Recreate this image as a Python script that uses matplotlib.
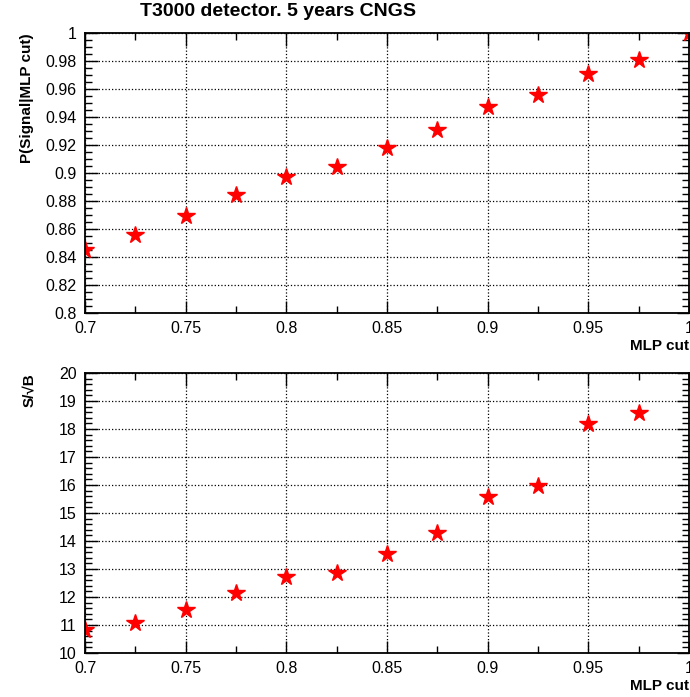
import numpy as np
import matplotlib.pyplot as plt
from matplotlib.ticker import MultipleLocator

plt.rcParams['font.family'] = ['Liberation Sans', 'DejaVu Sans']

# MLP cut values and results
mlp_cut = [0.7, 0.725, 0.75, 0.775, 0.8, 0.825, 0.85, 0.875, 0.9, 0.925, 0.95, 0.975, 1.0]
p_signal = [0.845, 0.856, 0.869, 0.884, 0.897, 0.904, 0.918, 0.931, 0.947, 0.956, 0.971, 0.981, 1.0]
s_over_sqrtb = [10.82, 11.07, 11.54, 12.14, 12.73, 12.86, 13.54, 14.29, 15.57, 15.96, 18.18, 18.57]

fig = plt.figure(figsize=(6.9, 6.97), dpi=100)
ax1 = fig.add_axes([85 / 690, 1 - 313 / 697, 604 / 690, 280 / 697])
ax2 = fig.add_axes([85 / 690, 1 - 653 / 697, 604 / 690, 280 / 697])


def style_axis(ax, ymin, ymax, ymaj, ymin_step):
    ax.set_xlim(0.7, 1.0)
    ax.set_ylim(ymin, ymax)
    ax.xaxis.set_major_locator(MultipleLocator(0.05))
    ax.xaxis.set_minor_locator(MultipleLocator(0.025))
    ax.yaxis.set_major_locator(MultipleLocator(ymaj))
    ax.yaxis.set_minor_locator(MultipleLocator(ymin_step))
    ax.tick_params(which='both', direction='in', top=True, right=True,
                   labelsize=11.5, width=1)
    ax.tick_params(which='major', length=9, pad=6)
    ax.tick_params(which='minor', length=5)
    ax.grid(True, which='major', color='black', linestyle=':', linewidth=0.9)
    for s in ax.spines.values():
        s.set_linewidth(1.3)
    ax.xaxis.set_major_formatter(plt.FuncFormatter(lambda v, p: ('%g' % round(v, 3))))
    ax.yaxis.set_major_formatter(plt.FuncFormatter(lambda v, p: ('%g' % round(v, 3))))
    ax.set_xlabel('MLP cut', fontsize=11, fontweight='bold', loc='right', labelpad=2)


style_axis(ax1, 0.8, 1.0, 0.02, 0.005)
style_axis(ax2, 10, 20, 1, 0.2)

ax1.plot(mlp_cut, p_signal, linestyle='none', marker='*', color='red', markersize=13)
ax2.plot(mlp_cut[:len(s_over_sqrtb)], s_over_sqrtb, linestyle='none', marker='*',
         color='red', markersize=13)

ax1.set_ylabel('P(Signal|MLP cut)', fontsize=11, fontweight='bold', loc='top', labelpad=8)
ax2.set_ylabel('S/\u221aB', fontsize=11, fontweight='bold', loc='top', labelpad=16)

fig.text(278 / 690, 1 - 12 / 697, 'T3000 detector. 5 years CNGS', ha='center', va='center',
         fontsize=14, fontweight='bold')

fig.savefig('out.png', dpi=100)
